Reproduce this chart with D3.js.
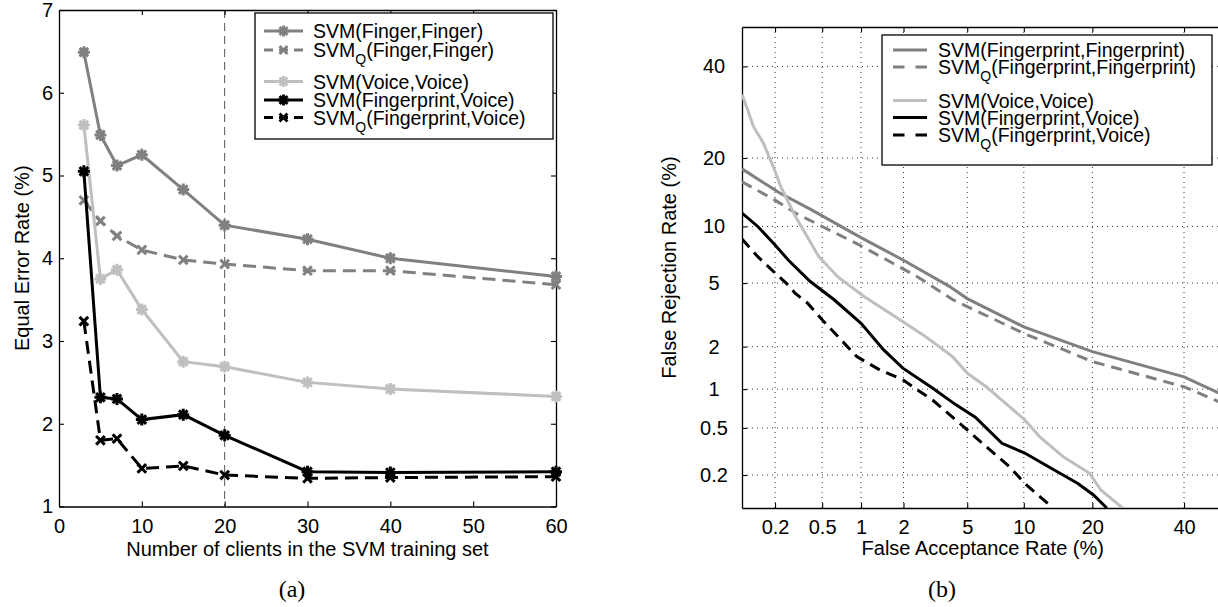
<!DOCTYPE html>
<html>
<head>
<meta charset="utf-8">
<script src="https://cdn.jsdelivr.net/npm/d3@7"></script>
<style>
  body { margin: 0; background: #fff; }
  svg { display: block; font-family: "Liberation Sans", Arial, sans-serif; }
</style>
</head>
<body>
<svg id="chart" width="1218" height="607"></svg>
<script>
// ---------- (a) equal error rate vs number of clients ----------
const clients = [3, 5, 7, 10, 15, 20, 30, 40, 60];
const eerFingerFinger  = [6.49, 5.49, 5.12, 5.25, 4.83, 4.40, 4.23, 4.00, 3.78];
const eerQFingerFinger = [4.70, 4.45, 4.27, 4.10, 3.98, 3.93, 3.85, 3.85, 3.68];
const eerVoiceVoice    = [5.61, 3.75, 3.86, 3.38, 2.75, 2.69, 2.50, 2.42, 2.33];
const eerFingerVoice   = [5.05, 2.32, 2.30, 2.05, 2.11, 1.86, 1.42, 1.41, 1.42];
const eerQFingerVoice  = [3.24, 1.80, 1.82, 1.46, 1.49, 1.38, 1.34, 1.35, 1.36];
const clientTicks = [0, 10, 20, 30, 40, 50, 60];
const eerTicks = [1, 2, 3, 4, 5, 6, 7];
const markedClients = 20;

// ---------- (b) DET curves (percent) ----------
const farFpFp  = [0.1, 0.22, 0.41, 1, 2, 3.9, 5, 10, 20, 40, 50];
const frrFpFp  = [18.1, 14.3, 12.0, 8.8, 6.7, 4.8, 4.05, 2.7, 1.85, 1.23, 0.9];
const farQFpFp = [0.1, 0.2, 0.3, 0.5, 0.93, 1.55, 2.5, 4.1, 10, 20, 40, 49];
const frrQFpFp = [16.0, 13.3, 11.6, 10.0, 8.2, 6.7, 5.4, 4.0, 2.45, 1.58, 1.04, 0.80];
const farVV = [0.1, 0.11, 0.128, 0.157, 0.193, 0.224, 0.30, 0.47, 0.67, 1.06, 1.75, 2.8, 4.1, 5.03, 6.4, 8.1, 10.1, 11.96, 15.2, 19.5, 21.6, 26.1];
const frrVV = [33.2, 30.5, 26.1, 22.8, 18.5, 15.3, 11.2, 7.0, 5.4, 4.16, 3.14, 2.33, 1.71, 1.30, 1.04, 0.78, 0.58, 0.42, 0.288, 0.207, 0.146, 0.098];
const farFpV = [0.1, 0.14, 0.2, 0.262, 0.40, 0.62, 1.0, 1.46, 1.98, 3.12, 4.3, 5.56, 7.75, 10.1, 13.5, 17.5, 20.2, 22.7];
const frrFpV = [11.6, 10.0, 8.07, 6.7, 5.1, 4.0, 2.85, 1.9, 1.42, 1.01, 0.76, 0.61, 0.374, 0.31, 0.228, 0.168, 0.132, 0.1];
const farQFpV = [0.1, 0.14, 0.2, 0.25, 0.30, 0.38, 0.50, 0.67, 0.93, 1.37, 1.98, 3.12, 4.78, 6.4, 8.5, 10.1, 11.96, 13.7];
const frrQFpV = [8.65, 7.0, 5.7, 5.0, 4.35, 3.8, 3.0, 2.33, 1.71, 1.38, 1.17, 0.82, 0.51, 0.35, 0.236, 0.168, 0.127, 0.1];
const detTicks = [0.2, 0.5, 1, 2, 5, 10, 20, 40];

const darkGray = "#808080";
const lightGray = "#bfbfbf";
const fontSize = 20;
const legendFont = 19.5;

// inverse normal cdf (Acklam), used for the DET axes
function probit(p) {
  const a = [-39.69683028665376, 220.9460984245205, -275.9285104469687, 138.357751867269, -30.66479806614716, 2.506628277459239];
  const b = [-54.47609879822406, 161.5858368580409, -155.6989798598866, 66.80131188771972, -13.28068155288572];
  const c = [-0.007784894002430293, -0.3223964580411365, -2.400758277161838, -2.549732539343734, 4.374664141464968, 2.938163982698783];
  const d = [0.007784695709041462, 0.3224671290700398, 2.445134137142996, 3.754408661907416];
  const plow = 0.02425;
  let q, r;
  if (p < plow) {
    q = Math.sqrt(-2 * Math.log(p));
    return (((((c[0]*q+c[1])*q+c[2])*q+c[3])*q+c[4])*q+c[5]) / ((((d[0]*q+d[1])*q+d[2])*q+d[3])*q+1);
  } else if (p <= 1 - plow) {
    q = p - 0.5; r = q * q;
    return (((((a[0]*r+a[1])*r+a[2])*r+a[3])*r+a[4])*r+a[5])*q / (((((b[0]*r+b[1])*r+b[2])*r+b[3])*r+b[4])*r+1);
  }
  q = Math.sqrt(-2 * Math.log(1 - p));
  return -(((((c[0]*q+c[1])*q+c[2])*q+c[3])*q+c[4])*q+c[5]) / ((((d[0]*q+d[1])*q+d[2])*q+d[3])*q+1);
}

const svg = d3.select("#chart");
svg.append("rect").attr("width", 1218).attr("height", 607).attr("fill", "#fff");

function styleAxis(g) {
  g.attr("font-size", fontSize).attr("font-family", "Liberation Sans, Arial, sans-serif");
  g.selectAll(".domain").attr("stroke", "#000").attr("stroke-width", 1.3);
  g.selectAll(".tick line").attr("stroke", "#000").attr("stroke-width", 1.1);
  g.selectAll(".tick text").attr("fill", "#000");
}

function markerPath(type, r) {
  const a = r * 0.72;
  const x = `M${-a},${-a}L${a},${a}M${-a},${a}L${a},${-a}`;
  if (type === "x") return x;
  return x + `M${-r},0H${r}M0,${-r}V${r}`;
}

function legendLabel(sel, parts) {
  sel.append("tspan").text(parts[0]);
  if (parts.length > 2) {
    sel.append("tspan").attr("font-size", 14).attr("dy", 7).text(parts[1]);
    sel.append("tspan").attr("dy", -7).text(parts[2]);
  } else {
    sel.append("tspan").text(parts[1]);
  }
}

// ================= chart (a) =================
const xA = d3.scaleLinear().domain([0, 60]).range([59, 556]);
const yA = d3.scaleLinear().domain([1, 7]).range([506.5, 10]);
const gA = svg.append("g");

// dashed marker line at 20 clients
gA.append("line")
  .attr("x1", xA(markedClients)).attr("x2", xA(markedClients))
  .attr("y1", yA(7)).attr("y2", yA(1))
  .attr("stroke", "#555").attr("stroke-width", 1).attr("stroke-dasharray", "8,5");

gA.append("g").attr("transform", `translate(0,${yA(1)})`)
  .call(d3.axisBottom(xA).tickValues(clientTicks).tickFormat(d3.format("d"))
    .tickSizeInner(-5).tickSizeOuter(0).tickPadding(12))
  .call(styleAxis);
gA.append("g").attr("transform", `translate(0,${yA(7)})`)
  .call(d3.axisTop(xA).tickValues(clientTicks).tickSizeInner(-5).tickSizeOuter(0).tickFormat(""))
  .call(styleAxis);
gA.append("g").attr("transform", `translate(${xA(0)},0)`)
  .call(d3.axisLeft(yA).tickValues(eerTicks).tickFormat(d3.format("d"))
    .tickSizeInner(-5).tickSizeOuter(0).tickPadding(6))
  .call(styleAxis);
gA.append("g").attr("transform", `translate(${xA(60)},0)`)
  .call(d3.axisRight(yA).tickValues(eerTicks).tickSizeInner(-5).tickSizeOuter(0).tickFormat(""))
  .call(styleAxis);

const seriesA = [
  { label: ["SVM", "(Finger,Finger)"], values: eerFingerFinger, color: darkGray, dash: null, marker: "*" },
  { label: ["SVM", "Q", "(Finger,Finger)"], values: eerQFingerFinger, color: darkGray, dash: "13,7", marker: "x" },
  { label: ["SVM", "(Voice,Voice)"], values: eerVoiceVoice, color: lightGray, dash: null, marker: "*" },
  { label: ["SVM", "(Fingerprint,Voice)"], values: eerFingerVoice, color: "#000", dash: null, marker: "*" },
  { label: ["SVM", "Q", "(Fingerprint,Voice)"], values: eerQFingerVoice, color: "#000", dash: "13,7", marker: "x" }
];

const lineA = d3.line().x((d, i) => xA(clients[i])).y(d => yA(d));
seriesA.forEach(s => {
  gA.append("path").attr("d", lineA(s.values))
    .attr("fill", "none").attr("stroke", s.color).attr("stroke-width", 3)
    .attr("stroke-dasharray", s.dash);
  gA.selectAll(null).data(s.values).enter().append("path")
    .attr("transform", (d, i) => `translate(${xA(clients[i])},${yA(d)})`)
    .attr("d", markerPath(s.marker, 6))
    .attr("fill", "none").attr("stroke", s.color).attr("stroke-width", 3);
});

gA.append("text").attr("transform", `translate(29,${(yA(1) + yA(7)) / 2}) rotate(-90)`)
  .attr("text-anchor", "middle").attr("font-size", fontSize).text("Equal Error Rate (%)");
gA.append("text").attr("x", (xA(0) + xA(60)) / 2).attr("y", 556)
  .attr("text-anchor", "middle").attr("font-size", fontSize).text("Number of clients in the SVM training set");
gA.append("text").attr("x", 292).attr("y", 597).attr("text-anchor", "middle")
  .attr("font-family", "Liberation Serif, serif").attr("font-size", 24).text("(a)");

// legend (a)
const legA = gA.append("g").attr("transform", "translate(255,13)");
legA.append("rect").attr("width", 298).attr("height", 126)
  .attr("fill", "#fff").attr("stroke", "#000").attr("stroke-width", 1.3);
const legRowsA = [25, 44, 75.5, 94, 111.5];
seriesA.forEach((s, i) => {
  const row = legA.append("g").attr("transform", `translate(0,${legRowsA[i]})`);
  row.append("line").attr("x1", 9).attr("x2", 48).attr("y1", -7).attr("y2", -7)
    .attr("stroke", s.color).attr("stroke-width", 3).attr("stroke-dasharray", s.dash ? "9,6" : null);
  row.append("path").attr("transform", "translate(28.5,-7)").attr("d", markerPath(s.marker, 5.5))
    .attr("fill", "none").attr("stroke", s.color).attr("stroke-width", 2.8);
  row.append("text").attr("x", 58).attr("font-size", legendFont).call(legendLabel, s.label);
});

// ================= chart (b) =================
const xP = d3.scaleLinear().domain([probit(0.001), probit(0.5)]).range([742, 1223.5]);
const yP = d3.scaleLinear().domain([probit(0.001), probit(0.5)]).range([508, 27]);
const fx = v => xP(probit(v / 100));
const fy = v => yP(probit(v / 100));
const gB = svg.append("g");

gB.append("defs").append("clipPath").attr("id", "clipB").append("rect")
  .attr("x", xP.range()[0]).attr("y", yP.range()[1])
  .attr("width", xP.range()[1] - xP.range()[0]).attr("height", yP.range()[0] - yP.range()[1]);

// dotted grid
gB.append("g").selectAll("line").data(detTicks).enter().append("line")
  .attr("x1", d => fx(d)).attr("x2", d => fx(d)).attr("y1", yP.range()[1]).attr("y2", yP.range()[0])
  .attr("stroke", "#333").attr("stroke-width", 1).attr("stroke-dasharray", "1,4");
gB.append("g").selectAll("line").data(detTicks).enter().append("line")
  .attr("y1", d => fy(d)).attr("y2", d => fy(d)).attr("x1", xP.range()[0]).attr("x2", xP.range()[1])
  .attr("stroke", "#333").attr("stroke-width", 1).attr("stroke-dasharray", "1,4");

const tickP = detTicks.map(v => probit(v / 100));
gB.append("g").attr("transform", `translate(0,${yP.range()[0]})`)
  .call(d3.axisBottom(xP).tickValues(tickP).tickFormat((d, i) => detTicks[i])
    .tickSizeInner(-5).tickSizeOuter(0).tickPadding(12))
  .call(styleAxis);
gB.append("g").attr("transform", `translate(0,${yP.range()[1]})`)
  .call(d3.axisTop(xP).tickValues(tickP).tickSizeInner(-5).tickSizeOuter(0).tickFormat(""))
  .call(styleAxis);
gB.append("g").attr("transform", `translate(${xP.range()[0]},0)`)
  .call(d3.axisLeft(yP).tickValues(tickP).tickFormat((d, i) => detTicks[i])
    .tickSizeInner(-5).tickSizeOuter(0))
  .call(styleAxis)
  .call(g => g.selectAll(".tick text").attr("x", -28).attr("text-anchor", "middle"));
gB.append("g").attr("transform", `translate(${xP.range()[1]},0)`)
  .call(d3.axisRight(yP).tickValues(tickP).tickSizeInner(-5).tickSizeOuter(0).tickFormat(""))
  .call(styleAxis);

const seriesB = [
  { label: ["SVM", "(Fingerprint,Fingerprint)"], far: farFpFp, frr: frrFpFp, color: darkGray, dash: null },
  { label: ["SVM", "Q", "(Fingerprint,Fingerprint)"], far: farQFpFp, frr: frrQFpFp, color: darkGray, dash: "11,7" },
  { label: ["SVM", "(Voice,Voice)"], far: farVV, frr: frrVV, color: lightGray, dash: null },
  { label: ["SVM", "(Fingerprint,Voice)"], far: farFpV, frr: frrFpV, color: "#000", dash: null },
  { label: ["SVM", "Q", "(Fingerprint,Voice)"], far: farQFpV, frr: frrQFpV, color: "#000", dash: "11,7" }
];

const curves = gB.append("g").attr("clip-path", "url(#clipB)");
seriesB.forEach(s => {
  const line = d3.line().x((d, i) => fx(s.far[i])).y(d => fy(d));
  curves.append("path").attr("d", line(s.frr))
    .attr("fill", "none").attr("stroke", s.color).attr("stroke-width", 3)
    .attr("stroke-dasharray", s.dash);
});

gB.append("text").attr("transform", `translate(676,${(yP.range()[0] + yP.range()[1]) / 2}) rotate(-90)`)
  .attr("text-anchor", "middle").attr("font-size", fontSize).text("False Rejection Rate (%)");
gB.append("text").attr("x", (xP.range()[0] + xP.range()[1]) / 2).attr("y", 555)
  .attr("text-anchor", "middle").attr("font-size", fontSize).text("False Acceptance Rate (%)");
gB.append("text").attr("x", 942).attr("y", 597).attr("text-anchor", "middle")
  .attr("font-family", "Liberation Serif, serif").attr("font-size", 24).text("(b)");

// legend (b)
const legB = gB.append("g").attr("transform", "translate(882,35)");
legB.append("rect").attr("width", 330).attr("height", 130)
  .attr("fill", "#fff").attr("stroke", "#000").attr("stroke-width", 1.3);
const legRowsB = [22, 39, 72.5, 89.5, 107];
seriesB.forEach((s, i) => {
  const row = legB.append("g").attr("transform", `translate(0,${legRowsB[i]})`);
  row.append("line").attr("x1", 11).attr("x2", 45).attr("y1", -7).attr("y2", -7)
    .attr("stroke", s.color).attr("stroke-width", 3).attr("stroke-dasharray", s.dash ? "11.5,11" : null);
  row.append("text").attr("x", 56).attr("font-size", legendFont).call(legendLabel, s.label);
});
</script>
</body>
</html>
